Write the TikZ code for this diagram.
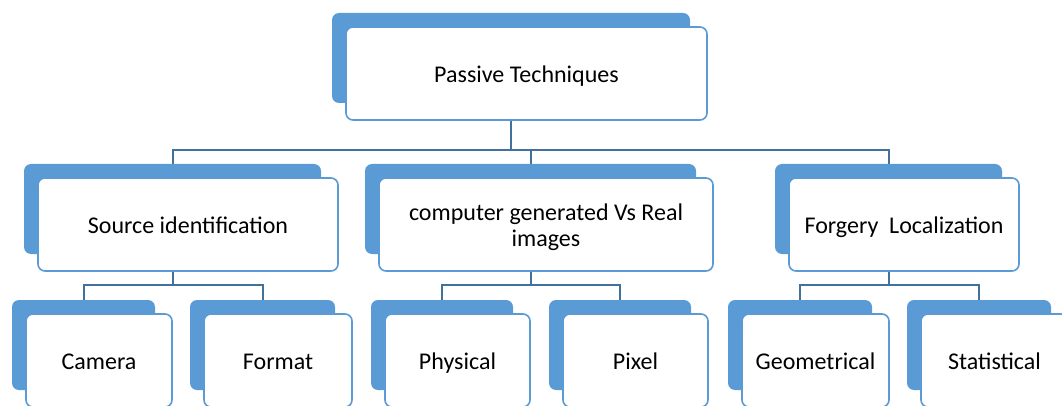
\documentclass[tikz,border=0pt]{standalone}
\usepackage{fontspec}
\setmainfont{Carlito}
\usetikzlibrary{backgrounds}
\definecolor{backblue}{HTML}{5B9BD5}
\definecolor{edgeblue}{HTML}{5B9BD5}
\definecolor{linkblue}{HTML}{41719C}
\tikzset{
  wbox/.style={draw=edgeblue, fill=white, line width=1.6pt, rounded corners=7pt,
    align=center, inner sep=0pt, font=\fontsize{24}{26}\selectfont},
  bbox/.style={fill=backblue, draw=none, rounded corners=7pt, inner sep=0pt},
  link/.style={draw=linkblue, line width=2pt}
}
\newcommand{\boxpair}[6]{%
  \node[bbox, minimum width=#4pt-3pt, minimum height=#5pt-3pt] (#1b) at (#2-15.5,#3-15.5) {};
  \node[wbox, minimum width=#4pt, minimum height=#5pt] (#1) at (#2,#3) {\rule[-4pt]{0pt}{26pt}#6};
}
\begin{document}
\begin{tikzpicture}[x=1pt,y=-1pt]
\useasboundingbox (0,0) rectangle (1062,406);
\boxpair{top}{526.5}{73.5}{361}{93}{Passive Techniques}
\boxpair{src}{188}{224.5}{300}{93}{Source identification}
\boxpair{cgi}{546}{224.5}{334}{93}{computer generated Vs Real\\images}
\boxpair{forg}{904}{224.5}{230}{93}{Forgery\ \ Localization}
\boxpair{cam}{99}{360.5}{146}{93}{Camera}
\boxpair{fmt}{278}{360.5}{148}{93}{Format}
\boxpair{phy}{457.5}{360.5}{145}{93}{Physical}
\boxpair{pix}{635.5}{360.5}{145}{93}{Pixel}
\boxpair{geo}{815.5}{360.5}{147}{93}{Geometrical}
\boxpair{sta}{994.5}{360.5}{147}{93}{Statistical}
\coordinate (bus0) at (0,150);
\coordinate (bus1) at (0,285);
\begin{scope}[on background layer]
  \draw[link] (topb.south) -- (topb.south |- bus0);
  \draw[link] (srcb.north) |- (forgb.north |- bus0) -- (forgb.north);
  \draw[link] (cgib.north) -- (cgib.north |- bus0);
  \draw[link] (srcb.south) -- (srcb.south |- bus1);
  \draw[link] (camb.north) |- (fmtb.north |- bus1) -- (fmtb.north);
  \draw[link] (cgib.south) -- (cgib.south |- bus1);
  \draw[link] (phyb.north) |- (pixb.north |- bus1) -- (pixb.north);
  \draw[link] (forgb.south) -- (forgb.south |- bus1);
  \draw[link] (geob.north) |- (stab.north |- bus1) -- (stab.north);
\end{scope}
\end{tikzpicture}
\end{document}
